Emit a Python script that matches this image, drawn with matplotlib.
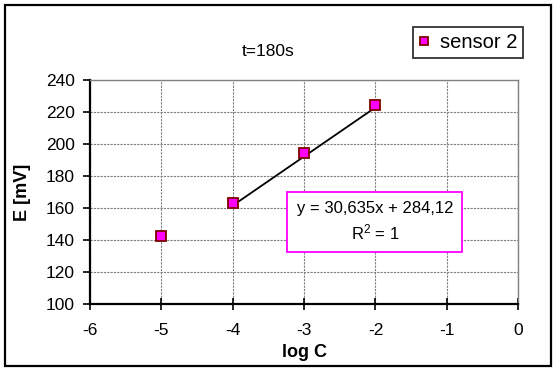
import matplotlib
matplotlib.use("Agg")
import matplotlib.pyplot as plt
import numpy as np

plt.rcParams['font.family'] = ['Liberation Sans', 'DejaVu Sans']
plt.rcParams['axes.unicode_minus'] = False

log_c = [-5, -4, -3, -2]
e_mv = [142.5, 163, 194.5, 224.5]
fit_x = [-4, -3, -2]
slope = 30.635
intercept = 284.12
x_ticks = [-6, -5, -4, -3, -2, -1, 0]
y_ticks = [100, 120, 140, 160, 180, 200, 220, 240]

fig = plt.figure(figsize=(5.56, 3.70), dpi=100)
# outer frame
fig.patches.append(plt.Rectangle((0.009, 0.011), 0.982, 0.976, transform=fig.transFigure,
                                 fill=False, edgecolor='black', linewidth=1.6))

ax = fig.add_axes([0.162, 0.178, 0.770, 0.606])
fx = np.array(fit_x)
ax.plot(fx, slope * fx + intercept, color='black', linewidth=1.3, zorder=3)
ax.plot(log_c, e_mv, linestyle='none', marker='s', markersize=7,
        markerfacecolor='#ff00ff', markeredgecolor='#800000', markeredgewidth=1.3,
        label='sensor 2', zorder=4)

ax.set_xlim(-6, 0)
ax.set_ylim(100, 240)
ax.set_xticks(x_ticks)
ax.set_yticks(y_ticks)
ax.grid(True, color='#808080', linestyle=(0, (2, 1)), linewidth=0.8)
for s in ['top', 'right']:
    ax.spines[s].set_color('#808080')
    ax.spines[s].set_linewidth(1.0)
for s in ['left', 'bottom']:
    ax.spines[s].set_linewidth(1.6)
ax.tick_params(direction='out', length=5, width=1.2, labelsize=12.5, pad=6)
ax.tick_params(axis='x', direction='inout', length=8, pad=9.5)
ax.set_xlabel('log C', fontsize=13, fontweight='bold', labelpad=4.5)
ax.set_ylabel('E [mV]', fontsize=13, fontweight='bold', labelpad=11)

fig.text(0.482, 0.862, 't=180s', fontsize=12.5, ha='center', va='center')

leg = fig.legend(loc='center', bbox_to_anchor=(0.842, 0.886), fontsize=14.5,
                 frameon=True, fancybox=False, edgecolor='black', handlelength=0.5,
                 handletextpad=0.5, borderpad=0.3, borderaxespad=0, markerscale=0.8)
leg.get_frame().set_linewidth(1.3)

ax.text(-2.01, 151.3, 'y = 30,635x + 284,12\n$\\mathregular{R^2}$ = 1', fontsize=12,
        ha='center', va='center', linespacing=1.4, zorder=5,
        bbox=dict(boxstyle='square,pad=0.55', facecolor='white', edgecolor='#ff00ff', linewidth=1.3))

fig.savefig('out.png', dpi=100)
